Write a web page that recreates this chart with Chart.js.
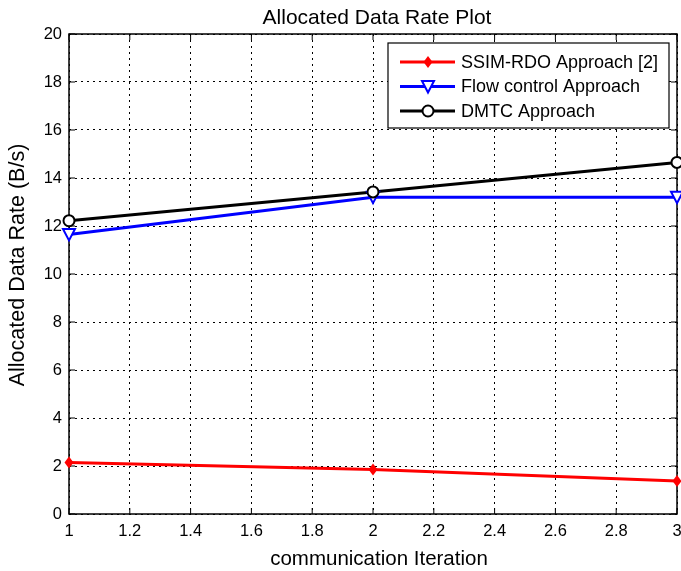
<!DOCTYPE html>
<html><head><meta charset="utf-8">
<script src="https://cdn.jsdelivr.net/npm/chart.js@4/dist/chart.umd.min.js"></script>
<style>html,body{margin:0;padding:0;background:#fff}#wrap{width:681px;height:571px}</style>
</head><body><div id="wrap"><canvas id="c" width="681" height="571"></canvas></div>
<script>
const iterations = [1, 2, 3];
const ssimRdo = [2.15, 1.85, 1.37];
const flowControl = [11.65, 13.2, 13.2];
const dmtc = [12.22, 13.42, 14.65];
const seriesNames = ['SSIM-RDO Approach [2]', 'Flow control Approach', 'DMTC Approach'];
const chartTitle = 'Allocated Data Rate Plot';
const xTitle = 'communication Iteration';
const yTitle = 'Allocated Data Rate (B/s)';

const FONT = '"Liberation Sans", Arial, sans-serif';
const toPts = (ys) => ys.map((y, i) => ({x: iterations[i], y}));

function drawMarker(ctx, style, x, y, color) {
  ctx.save(); ctx.lineWidth = 2; ctx.strokeStyle = color; ctx.fillStyle = color;
  if (style === 'rectRot') {
    ctx.beginPath(); ctx.moveTo(x, y - 6); ctx.lineTo(x + 4.5, y); ctx.lineTo(x, y + 6); ctx.lineTo(x - 4.5, y); ctx.closePath(); ctx.fill();
  } else if (style === 'triangle') {
    ctx.beginPath(); ctx.moveTo(x - 6, y - 5.5); ctx.lineTo(x + 6, y - 5.5); ctx.lineTo(x, y + 6); ctx.closePath();
    ctx.fillStyle = '#fff'; ctx.fill(); ctx.stroke();
  } else {
    ctx.beginPath(); ctx.arc(x, y, 5.5, 0, Math.PI * 2); ctx.fillStyle = '#fff'; ctx.fill(); ctx.stroke();
  }
  ctx.restore();
}

const boxPlugin = {
  id: 'box',
  afterDatasetsDraw(chart) {
    const {ctx, chartArea: a, scales} = chart;
    ctx.save();
    ctx.strokeStyle = '#000'; ctx.lineWidth = 1.5;
    ctx.strokeRect(a.left, a.top, a.right - a.left, a.bottom - a.top);
    ctx.lineWidth = 1;
    const xs = scales.x, ys = scales.y;
    ctx.beginPath();
    xs.ticks.forEach(t => { const px = xs.getPixelForValue(t.value);
      ctx.moveTo(px, a.bottom); ctx.lineTo(px, a.bottom - 6);
      ctx.moveTo(px, a.top); ctx.lineTo(px, a.top + 6); });
    ys.ticks.forEach(t => { const py = ys.getPixelForValue(t.value);
      ctx.moveTo(a.left, py); ctx.lineTo(a.left + 6, py);
      ctx.moveTo(a.right, py); ctx.lineTo(a.right - 6, py); });
    ctx.stroke();
    // markers on top of lines
    chart.data.datasets.forEach((ds, i) => {
      chart.getDatasetMeta(i).data.forEach(p => drawMarker(ctx, ds.pointStyle, p.x, p.y, ds.borderColor));
    });
    ctx.restore();
  },
  afterDraw(chart) {
    const {ctx} = chart;
    ctx.save();
    // titles
    ctx.fillStyle = '#000'; ctx.textAlign = 'center'; ctx.textBaseline = 'alphabetic';
    ctx.font = '21px ' + FONT;
    ctx.fillText(chartTitle, 377, 24);
    ctx.font = '20.5px ' + FONT;
    ctx.fillText(xTitle, 379, 565);
    ctx.save(); ctx.translate(24, 265); ctx.rotate(-Math.PI / 2);
    ctx.font = '21.5px ' + FONT; ctx.fillText(yTitle, 0, 0); ctx.restore();
    // legend
    const lx = 388, ly = 43, lw = 281, lh = 85;
    ctx.fillStyle = '#fff'; ctx.fillRect(lx, ly, lw, lh);
    ctx.strokeStyle = '#000'; ctx.lineWidth = 1.2; ctx.strokeRect(lx, ly, lw, lh);
    ctx.font = '18px ' + FONT; ctx.textBaseline = 'middle'; ctx.textAlign = 'left';
    chart.data.datasets.forEach((ds, i) => {
      const y = 62 + i * 24.5;
      ctx.strokeStyle = ds.borderColor; ctx.lineWidth = 3;
      ctx.beginPath(); ctx.moveTo(400, y); ctx.lineTo(455, y); ctx.stroke();
      drawMarker(ctx, ds.pointStyle, 428, y, ds.borderColor);
      ctx.fillStyle = '#000';
      ctx.fillText(ds.label, 461, y + 1);
    });
    ctx.restore();
  }
};

new Chart(document.getElementById('c'), {
  type: 'line',
  data: {
    datasets: [
      {label: seriesNames[0], data: toPts(ssimRdo), borderColor: '#ff0000', pointStyle: 'rectRot'},
      {label: seriesNames[1], data: toPts(flowControl), borderColor: '#0000ff', pointStyle: 'triangle'},
      {label: seriesNames[2], data: toPts(dmtc), borderColor: '#000000', pointStyle: 'circle'}
    ].map(d => Object.assign(d, {borderWidth: 3, pointRadius: 0, tension: 0, fill: false, clip: false}))
  },
  options: {
    responsive: false, animation: false, devicePixelRatio: 1,
    layout: {padding: {top: 34, right: 4, left: 0, bottom: 0}},
    plugins: {legend: {display: false}, tooltip: {enabled: false}, title: {display: false}},
    scales: {
      x: {type: 'linear', min: 1, max: 3,
        ticks: {stepSize: 0.2, color: '#000', font: {family: FONT, size: 16.5}, padding: 8, maxRotation: 0,
          callback: v => Math.abs(v - Math.round(v)) < 1e-9 ? String(Math.round(v)) : v.toFixed(1)},
        grid: {color: '#000', lineWidth: 1, drawTicks: false, tickLength: 0},
        border: {display: false, dash: [2, 4]},
        afterFit: s => { s.height = 57; s.paddingRight = 0; s.paddingLeft = 0; }
      },
      y: {min: 0, max: 20,
        ticks: {stepSize: 2, color: '#000', font: {family: FONT, size: 16.5}, padding: 7},
        grid: {color: '#000', lineWidth: 1, drawTicks: false, tickLength: 0},
        border: {display: false, dash: [2, 4]},
        afterFit: s => { s.width = 69; s.paddingTop = 0; s.paddingBottom = 0; }
      }
    }
  },
  plugins: [boxPlugin]
});
</script></body></html>
